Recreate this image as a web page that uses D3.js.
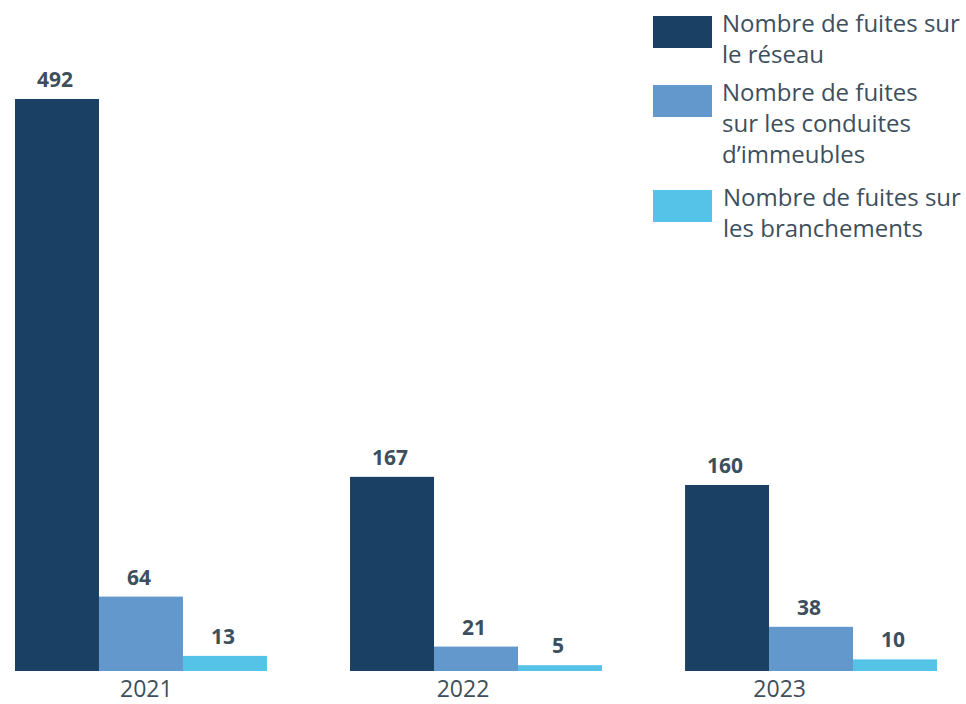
<!DOCTYPE html>
<html>
<head>
<meta charset="utf-8">
<script src="https://cdn.jsdelivr.net/npm/d3@7"></script>
<style>
  body { margin: 0; background: #fff; }
  svg { display: block; }
  text { font-family: "Open Sans", "Noto Sans", sans-serif; fill: #3d4f5c; }
</style>
</head>
<body>
<svg id="chart" width="966" height="704"></svg>
<script>
// data
var years = ["2021", "2022", "2023"];
var seriesNames = [
    ["Nombre de fuites sur", "le réseau"],
    ["Nombre de fuites", "sur les conduites", "d\u2019immeubles"],
    ["Nombre de fuites sur", "les branchements"]
];
var reseau = [492, 167, 160];
var conduites = [64, 21, 38];
var branchements = [13, 5, 10];
var colors = ["#1a4163", "#6398cc", "#55c3e7"];

var series = [reseau, conduites, branchements];
var svg = d3.select("#chart");

var baseY = 671;
var y = d3.scaleLinear().domain([0, 492]).range([baseY, 99]);

// groups
var x0 = d3.scaleBand().domain(years).range([15, 937]).paddingInner(0.248).paddingOuter(0);
var x1 = d3.scaleBand().domain(d3.range(series.length)).range([0, x0.bandwidth()]);
// year labels sit a bit off the group centres in the original
var xLab = d3.scaleBand().domain(years).range([-12, 938]);

var rows = [];
years.forEach(function (yr, i) {
    series.forEach(function (s, j) {
        rows.push({year: yr, k: j, v: s[i]});
    });
});

var g = svg.append("g");
g.selectAll("rect.bar").data(rows).enter().append("rect")
    .attr("class", "bar")
    .attr("x", function (d) { return x0(d.year) + x1(d.k); })
    .attr("y", function (d) { return y(d.v); })
    .attr("width", x1.bandwidth())
    .attr("height", function (d) { return baseY - y(d.v); })
    .attr("fill", function (d) { return colors[d.k]; });

g.selectAll("text.val").data(rows).enter().append("text")
    .attr("class", "val")
    .attr("x", function (d) { return x0(d.year) + x1(d.k) + x1.bandwidth() / 2 - 2; })
    .attr("y", function (d) { return y(d.v) - 12; })
    .attr("text-anchor", "middle")
    .style("font-size", "21px")
    .style("font-weight", "bold")
    .text(function (d) { return d.v; });

// x axis labels (no line, no ticks)
var ax = svg.append("g").attr("transform", "translate(0," + baseY + ")")
    .call(d3.axisBottom(xLab).tickSize(0).tickPadding(10));
ax.select(".domain").remove();
ax.selectAll("text").style("font-size", "23px").attr("fill", "#3d4f5c");

// legend
var legY = [16, 85, 190];
var lg = svg.append("g").attr("class", "legend");
seriesNames.forEach(function (lines, j) {
    var item = lg.append("g").attr("transform", "translate(653," + legY[j] + ")");
    item.append("rect").attr("width", 59).attr("height", 32).attr("fill", colors[j]);
    var t = item.append("text").attr("x", 69).attr("y", 16)
        .style("font-size", "24px");
    lines.forEach(function (ln, i) {
        t.append("tspan").attr("x", j == 2 ? 70 : 69).attr("dy", i == 0 ? 0 : 31).text(ln);
    });
});
</script>
</body>
</html>
